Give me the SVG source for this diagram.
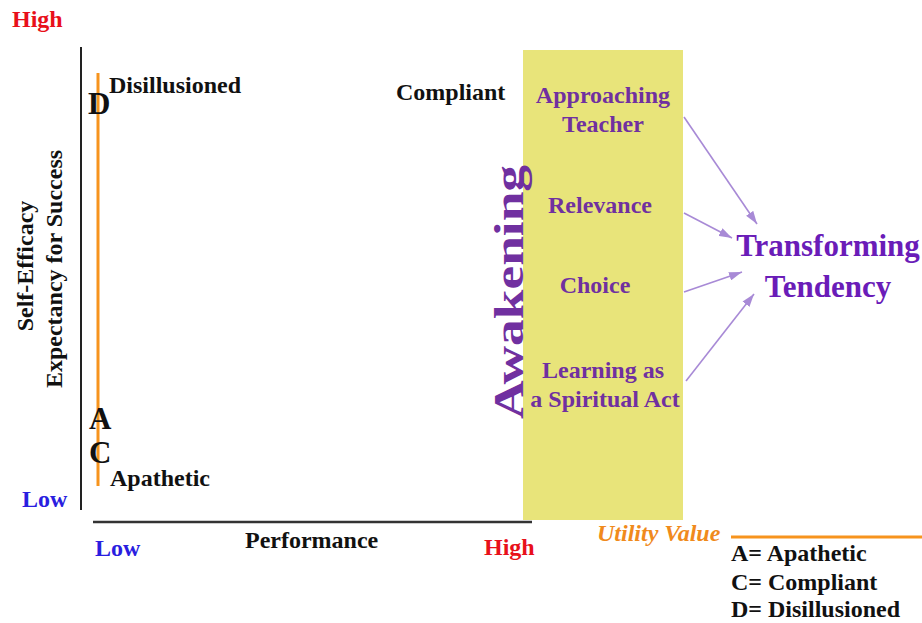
<svg xmlns="http://www.w3.org/2000/svg" width="922" height="623" viewBox="0 0 922 623">
<defs>
<style>
text{font-family:"Liberation Serif","Times New Roman",serif;font-weight:bold;}
.blk{fill:#111;font-size:24px;}
.red{fill:#e8101a;font-size:24px;}
.blue{fill:#2a1ee0;font-size:24px;}
.pur{fill:#7030a0;font-size:24px;text-anchor:middle;}
.big{fill:#111;font-size:31px;}
.conn{stroke:#a88ad6;stroke-width:1.6;fill:none;marker-end:url(#ah);}
</style>
<marker id="ah" viewBox="0 0 12 8" refX="12" refY="4" markerWidth="13" markerHeight="9" markerUnits="userSpaceOnUse" orient="auto">
<path d="M0,0 L12,4 L0,8 z" fill="#a88ad6"/>
</marker>
</defs>
<rect width="922" height="623" fill="#fff"/>

<g id="axes">
<line x1="81" y1="47" x2="81" y2="510" stroke="#222" stroke-width="2"/>
<line x1="93" y1="522" x2="532" y2="522" stroke="#333" stroke-width="2.5"/>
<text class="red" x="12" y="27">High</text>
<text class="blue" x="22" y="507">Low</text>
<text class="blue" x="95" y="556">Low</text>
<text class="blk" x="245" y="548">Performance</text>
<text class="red" x="484" y="555">High</text>
<text class="blk" text-anchor="middle" transform="translate(33,266) rotate(-90)">Self-Efficacy</text>
<text class="blk" text-anchor="middle" transform="translate(62,269) rotate(-90)">Expectancy for Success</text>
</g>

<g id="utility-line">
<line x1="98" y1="73" x2="98" y2="486" stroke="#f7941d" stroke-width="3"/>
<text class="big" x="88" y="114">D</text>
<text class="blk" x="109" y="93">Disillusioned</text>
<text class="big" x="89" y="429">A</text>
<text class="big" x="89" y="463">C</text>
<text class="blk" x="110" y="486">Apathetic</text>
</g>

<g id="compliant"><text class="blk" x="396" y="100">Compliant</text></g>

<g id="awakening">
<rect x="523" y="50" width="160" height="470" fill="#e8e47a"/>
<text fill="#7030a0" font-size="43" text-anchor="middle" textLength="254" lengthAdjust="spacingAndGlyphs" transform="translate(523,292) rotate(-90)">Awakening</text>
</g>

<g id="approaching-teacher">
<text class="pur" x="603" y="103">Approaching</text>
<text class="pur" x="603" y="132">Teacher</text>
</g>
<g id="relevance"><text class="pur" x="600" y="213">Relevance</text></g>
<g id="choice"><text class="pur" x="595" y="293">Choice</text></g>
<g id="learning-spiritual">
<text class="pur" x="603" y="378">Learning as</text>
<text class="pur" x="605" y="407">a Spiritual Act</text>
</g>

<g id="transforming-tendency">
<text fill="#6a1cb8" font-size="31" text-anchor="middle" x="828" y="256">Transforming</text>
<text fill="#6a1cb8" font-size="31" text-anchor="middle" x="828" y="297">Tendency</text>
</g>

<g id="connectors">
<line class="conn" x1="684" y1="117" x2="757" y2="224"/>
<line class="conn" x1="684" y1="213" x2="732" y2="238"/>
<line class="conn" x1="684" y1="292" x2="742" y2="272"/>
<line class="conn" x1="686" y1="381" x2="754" y2="294"/>
</g>

<g id="legend">
<text fill="#f08a1c" font-size="24" font-style="italic" x="597" y="541">Utility Value</text>
<line x1="731" y1="537" x2="922" y2="537" stroke="#f7941d" stroke-width="3"/>
<text class="blk" x="731" y="561">A= Apathetic</text>
<text class="blk" x="731" y="590">C= Compliant</text>
<text class="blk" x="731" y="617">D= Disillusioned</text>
</g>
</svg>
